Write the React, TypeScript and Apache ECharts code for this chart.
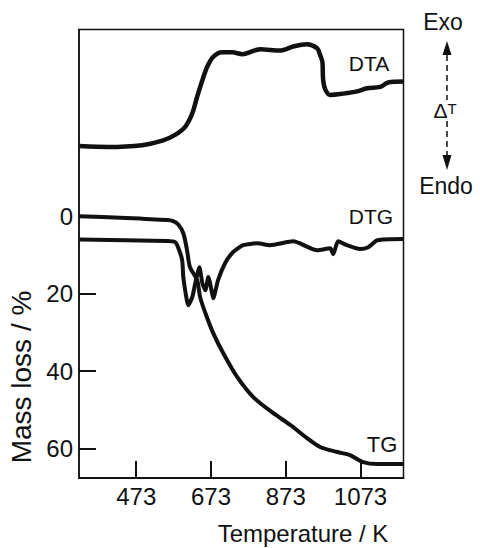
import React, { useEffect, useRef } from "react";
import * as echarts from "echarts";

// Temperature tick labels (K)
const tempTicks = [473, 673, 873, 1073];
// Mass-loss tick labels (%)
const massTicks = [0, 20, 40, 60];

// TG curve: temperature (K) and mass loss (%)
const tgTemp = [321, 430, 556, 572, 585, 599, 609, 617, 636, 644, 658, 679, 706, 743, 786, 839, 885, 930, 965, 1011, 1045, 1080, 1118, 1188];
const tgMass = [0, 0.4, 1.0, 1.3, 2.1, 4.4, 8.8, 13.2, 16.5, 20.9, 25.0, 30.2, 35.4, 41.5, 46.7, 50.8, 53.9, 57.3, 59.6, 60.9, 61.7, 63.5, 64.0, 64.0];

// DTG curve: temperature (K) and rate (drawn on the mass-loss scale)
const dtgTemp = [321, 556, 577, 585, 596, 599, 607, 612, 623, 631, 642, 650, 658, 666, 676, 679, 692, 711, 732, 759, 797, 831, 893, 957, 992, 1000, 1013, 1037, 1072, 1094, 1118, 1188];
const dtgVal = [6.0, 6.4, 6.7, 8.0, 11.4, 15.7, 20.9, 23.0, 20.9, 17.3, 13.2, 17.3, 19.1, 15.7, 19.9, 21.2, 16.5, 12.1, 9.3, 7.5, 7.0, 7.5, 6.5, 8.8, 8.3, 9.8, 6.5, 7.5, 8.5, 8.0, 6.2, 5.9];

// DTA curve: temperature (K) and ΔT (arbitrary units, 0–100)
const dtaTemp = [321, 398, 489, 543, 577, 604, 623, 636, 650, 663, 679, 703, 730, 757, 805, 858, 893, 930, 957, 965, 971, 973, 979, 992, 1027, 1064, 1091, 1126, 1147, 1188];
const dtaVal = [74.0, 73.8, 74.2, 75.2, 76.5, 78.3, 81.3, 85.0, 88.7, 91.7, 93.9, 94.9, 94.9, 94.5, 95.6, 95.3, 96.2, 96.7, 95.8, 94.3, 92.8, 88.8, 86.6, 85.4, 85.7, 86.2, 86.9, 87.2, 88.2, 88.4];

const FONT = "'Liberation Sans', Arial, sans-serif";
const INK = "#111";

const zip = (a: number[], b: number[]) => a.map((v, i) => [v, b[i]]);

export default function App() {
  const ref = useRef<HTMLDivElement>(null);
  useEffect(() => {
    if (!ref.current) return;
    const chart = echarts.init(ref.current, undefined, { renderer: "svg" });
    chart.setOption({
      animation: false,
      backgroundColor: "#fff",
      grid: {
        left: 79,
        top: 29.5,
        right: 76.5,
        bottom: 70,
        show: true,
        borderColor: INK,
        borderWidth: 1.5,
        backgroundColor: "transparent",
      },
      xAxis: {
        type: "value",
        min: 320,
        max: 1188,
        splitLine: { show: false },
        axisLine: { show: true, onZero: false, lineStyle: { color: INK, width: 2 } },
        axisTick: {
          show: true,
          customValues: tempTicks,
          inside: true,
          length: 17,
          lineStyle: { color: INK, width: 2 },
        },
        axisLabel: {
          customValues: tempTicks,
          formatter: (v: number) => String(v),
          fontSize: 24,
          color: INK,
          fontFamily: FONT,
          margin: 6,
        },
      },
      yAxis: [
        {
          type: "value",
          inverse: true,
          min: -48.2,
          max: 67.6,
          splitLine: { show: false },
          axisLine: { show: true, onZero: false, lineStyle: { color: INK, width: 1.5 } },
          axisTick: {
            show: true,
            customValues: massTicks,
            inside: true,
            length: 17,
            lineStyle: { color: INK, width: 2 },
          },
          axisLabel: {
            customValues: massTicks,
            formatter: (v: number) => String(v),
            fontSize: 24,
            color: INK,
            fontFamily: FONT,
            margin: 6,
          },
        },
        { type: "value", min: 0, max: 100, show: false },
      ],
      series: [
        {
          type: "line",
          name: "TG",
          data: zip(tgTemp, tgMass),
          yAxisIndex: 0,
          smooth: 0.3,
          showSymbol: false,
          lineStyle: { color: INK, width: 4 },
        },
        {
          type: "line",
          name: "DTG",
          data: zip(dtgTemp, dtgVal),
          yAxisIndex: 0,
          smooth: 0.2,
          showSymbol: false,
          lineStyle: { color: INK, width: 4 },
        },
        {
          type: "line",
          name: "DTA",
          data: zip(dtaTemp, dtaVal),
          yAxisIndex: 1,
          smooth: 0.3,
          showSymbol: false,
          lineStyle: { color: INK, width: 4.5 },
        },
      ],
      graphic: [
        { type: "text", x: 369, y: 63, style: { text: "DTA", fontSize: 21, fontFamily: FONT, fill: INK, align: "center", verticalAlign: "middle" } },
        { type: "text", x: 371, y: 216, style: { text: "DTG", fontSize: 21, fontFamily: FONT, fill: INK, align: "center", verticalAlign: "middle" } },
        { type: "text", x: 382, y: 444, style: { text: "TG", fontSize: 22, fontFamily: FONT, fill: INK, align: "center", verticalAlign: "middle" } },
        { type: "text", x: 303, y: 533, style: { text: "Temperature / K", fontSize: 24, fontFamily: FONT, fill: INK, align: "center", verticalAlign: "middle" } },
        { type: "text", x: 21, y: 377, rotation: Math.PI / 2, style: { text: "Mass loss / %", fontSize: 28, fontFamily: FONT, fill: INK, align: "center", verticalAlign: "middle" } },
        { type: "text", x: 443, y: 22, style: { text: "Exo", fontSize: 23, fontFamily: FONT, fill: INK, align: "center", verticalAlign: "middle" } },
        { type: "text", x: 446, y: 186, style: { text: "Endo", fontSize: 23, fontFamily: FONT, fill: INK, align: "center", verticalAlign: "middle" } },
        {
          type: "text",
          x: 445,
          y: 110,
          style: {
            text: "{a|Δ}{b|T}",
            fill: INK,
            align: "center",
            verticalAlign: "middle",
            rich: {
              a: { fontSize: 21, fontFamily: FONT, fill: INK },
              b: { fontSize: 15, fontFamily: FONT, fill: INK, padding: [0, 0, 4, 0] },
            },
          },
        },
        { type: "polygon", shape: { points: [[447, 41], [442.5, 55], [451.5, 55]] }, style: { fill: INK } },
        { type: "line", shape: { x1: 447, y1: 55, x2: 447, y2: 100 }, style: { stroke: INK, lineWidth: 1.5, lineDash: [6, 4] } },
        { type: "line", shape: { x1: 447, y1: 121, x2: 447, y2: 155 }, style: { stroke: INK, lineWidth: 1.5, lineDash: [6, 4] } },
        { type: "polygon", shape: { points: [[447, 170], [442.5, 155], [451.5, 155]] }, style: { fill: INK } },
      ],
    });
    return () => chart.dispose();
  }, []);
  return <div ref={ref} style={{ width: 480, height: 548, position: "absolute", left: 0, top: 0 }} />;
}
